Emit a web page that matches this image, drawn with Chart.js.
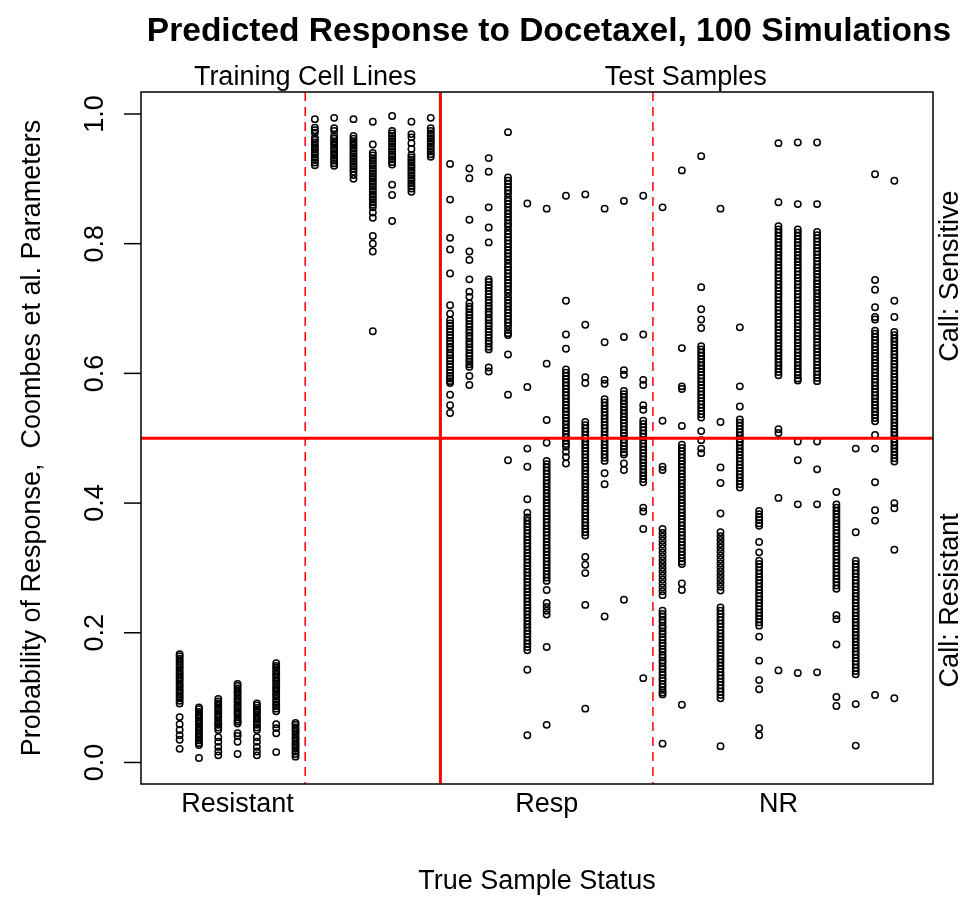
<!DOCTYPE html>
<html>
<head>
<meta charset="utf-8">
<script src="https://cdn.jsdelivr.net/npm/chart.js@4.4.1/dist/chart.umd.min.js"></script>
<style>
  html, body { margin: 0; padding: 0; background: #fff; }
</style>
</head>
<body>
<canvas id="stripChart" width="966" height="915"></canvas>
<script>
// labels and reference positions (x in column units, y in probability)
const groupNames = ['Resistant', 'Resp', 'NR'];
const groupLabelX = [4, 20, 32];
const topLabels = ['Training Cell Lines', 'Test Samples'];
const topLabelX = [7.5, 27.2];
const sideLabels = ['Call: Sensitive', 'Call: Resistant'];
const sideLabelY = [0.75, 0.25];
const yTicks = [0, 0.2, 0.4, 0.6, 0.8, 1.0];
const yTickLabels = ['0.0', '0.2', '0.4', '0.6', '0.8', '1.0'];
const dashedAt = [7.5, 25.5];
const solidAt = 14.5;
const cutoff = 0.5;

// predicted probabilities, one array per sample (100 simulations each, dense runs estimated)
const trainResistant = [
  [0.167,0.164,0.160,0.156,0.153,0.149,0.146,0.142,0.138,0.135,0.131,0.128,0.124,0.120,0.117,0.113,0.110,0.106,0.102,0.099,0.095,0.091,0.070,0.059,0.050,0.042,0.035,0.021],
  [0.085,0.082,0.078,0.074,0.071,0.067,0.063,0.060,0.056,0.052,0.049,0.045,0.041,0.038,0.034,0.030,0.027,0.007],
  [0.098,0.094,0.091,0.087,0.083,0.080,0.076,0.072,0.069,0.065,0.061,0.058,0.054,0.050,0.039,0.032,0.024,0.017,0.011],
  [0.121,0.118,0.114,0.110,0.107,0.103,0.099,0.096,0.092,0.088,0.085,0.081,0.077,0.074,0.070,0.066,0.063,0.060,0.045,0.041,0.032,0.013],
  [0.091,0.088,0.084,0.080,0.077,0.073,0.069,0.066,0.062,0.058,0.054,0.050,0.039,0.032,0.024,0.017,0.011],
  [0.153,0.149,0.146,0.142,0.138,0.135,0.131,0.127,0.124,0.120,0.116,0.113,0.109,0.105,0.102,0.098,0.094,0.090,0.087,0.083,0.079,0.059,0.053,0.045,0.016],
  [0.061,0.058,0.054,0.050,0.047,0.043,0.039,0.036,0.032,0.028,0.025,0.021,0.017,0.013,0.009]
];
const trainSensitive = [
  [0.992,0.979,0.975,0.971,0.963,0.960,0.956,0.952,0.948,0.945,0.941,0.937,0.933,0.929,0.925,0.921],
  [0.994,0.978,0.974,0.966,0.962,0.958,0.955,0.951,0.947,0.943,0.939,0.936,0.932,0.928,0.924,0.920],
  [0.992,0.966,0.962,0.958,0.954,0.951,0.947,0.943,0.939,0.935,0.931,0.927,0.923,0.919,0.915,0.911,0.906,0.900],
  [0.988,0.953,0.940,0.936,0.932,0.928,0.924,0.920,0.916,0.912,0.908,0.904,0.900,0.896,0.892,0.888,0.884,0.880,0.876,0.872,0.868,0.864,0.860,0.856,0.848,0.840,0.812,0.800,0.788,0.665],
  [0.997,0.974,0.970,0.966,0.962,0.958,0.954,0.950,0.946,0.942,0.938,0.934,0.930,0.926,0.922,0.891,0.875,0.835],
  [0.988,0.969,0.964,0.955,0.946,0.937,0.933,0.929,0.925,0.921,0.917,0.913,0.909,0.905,0.901,0.897,0.893,0.889,0.885,0.880],
  [0.994,0.978,0.974,0.970,0.966,0.962,0.958,0.954,0.950,0.946,0.942,0.938,0.934]
];
const testResp = [
  [0.923,0.868,0.809,0.791,0.754,0.705,0.692,0.682,0.677,0.673,0.668,0.664,0.659,0.655,0.650,0.646,0.641,0.637,0.632,0.628,0.623,0.619,0.614,0.610,0.605,0.601,0.596,0.592,0.588,0.585,0.567,0.551,0.539],
  [0.916,0.901,0.837,0.788,0.775,0.745,0.726,0.718,0.708,0.703,0.699,0.694,0.690,0.685,0.681,0.676,0.672,0.667,0.663,0.658,0.654,0.649,0.645,0.640,0.636,0.631,0.627,0.622,0.618,0.614,0.610,0.596,0.582],
  [0.932,0.911,0.856,0.825,0.802,0.745,0.741,0.736,0.732,0.727,0.722,0.718,0.713,0.709,0.704,0.700,0.695,0.691,0.686,0.682,0.677,0.673,0.668,0.664,0.659,0.655,0.650,0.646,0.641,0.637,0.609,0.603],
  [0.972,0.902,0.897,0.892,0.887,0.882,0.877,0.871,0.866,0.861,0.856,0.851,0.846,0.841,0.836,0.831,0.826,0.820,0.815,0.810,0.805,0.800,0.795,0.790,0.785,0.780,0.775,0.769,0.764,0.759,0.754,0.749,0.744,0.739,0.734,0.729,0.724,0.718,0.713,0.708,0.703,0.698,0.693,0.688,0.683,0.678,0.673,0.667,0.662,0.659,0.629,0.567,0.466],
  [0.862,0.579,0.484,0.456,0.406,0.385,0.378,0.373,0.368,0.363,0.358,0.353,0.348,0.343,0.338,0.333,0.328,0.323,0.318,0.313,0.308,0.303,0.298,0.293,0.288,0.283,0.278,0.273,0.268,0.263,0.258,0.253,0.248,0.243,0.238,0.233,0.228,0.223,0.218,0.213,0.208,0.203,0.198,0.193,0.188,0.183,0.178,0.173,0.143,0.042],
  [0.854,0.615,0.528,0.493,0.465,0.460,0.455,0.450,0.445,0.440,0.435,0.430,0.425,0.420,0.415,0.410,0.405,0.400,0.395,0.390,0.385,0.380,0.375,0.370,0.365,0.360,0.355,0.350,0.345,0.340,0.335,0.330,0.325,0.320,0.315,0.310,0.305,0.300,0.295,0.290,0.285,0.280,0.266,0.246,0.240,0.234,0.228,0.178,0.058],
  [0.874,0.712,0.660,0.638,0.606,0.601,0.596,0.591,0.586,0.581,0.576,0.571,0.566,0.561,0.556,0.551,0.546,0.541,0.536,0.531,0.526,0.521,0.516,0.511,0.506,0.501,0.496,0.491,0.487,0.479,0.471,0.461],
  [0.876,0.675,0.594,0.585,0.525,0.520,0.515,0.510,0.505,0.500,0.495,0.490,0.485,0.480,0.475,0.470,0.465,0.460,0.455,0.450,0.445,0.440,0.435,0.430,0.425,0.420,0.415,0.410,0.405,0.400,0.395,0.390,0.385,0.380,0.375,0.370,0.365,0.360,0.355,0.350,0.317,0.305,0.292,0.243,0.083],
  [0.854,0.648,0.590,0.584,0.560,0.555,0.550,0.545,0.540,0.535,0.530,0.525,0.520,0.515,0.510,0.505,0.500,0.495,0.490,0.485,0.480,0.475,0.470,0.465,0.446,0.429,0.225],
  [0.866,0.656,0.605,0.598,0.573,0.568,0.563,0.558,0.553,0.548,0.543,0.538,0.533,0.528,0.523,0.518,0.513,0.508,0.503,0.498,0.493,0.488,0.483,0.478,0.475,0.461,0.451,0.251],
  [0.874,0.660,0.590,0.582,0.551,0.544,0.527,0.522,0.517,0.512,0.507,0.502,0.497,0.492,0.487,0.482,0.477,0.472,0.467,0.462,0.457,0.452,0.447,0.442,0.437,0.432,0.393,0.387,0.360,0.130]
];
const testNR = [
  [0.856,0.527,0.456,0.451,0.360,0.354,0.348,0.342,0.336,0.330,0.324,0.318,0.312,0.306,0.300,0.294,0.288,0.282,0.276,0.270,0.264,0.258,0.234,0.229,0.225,0.220,0.216,0.211,0.207,0.202,0.198,0.193,0.189,0.184,0.180,0.175,0.171,0.166,0.162,0.157,0.153,0.148,0.144,0.139,0.135,0.130,0.126,0.121,0.117,0.112,0.108,0.105,0.029],
  [0.913,0.639,0.580,0.576,0.519,0.490,0.485,0.480,0.475,0.470,0.465,0.460,0.455,0.450,0.445,0.440,0.435,0.430,0.425,0.420,0.415,0.410,0.405,0.400,0.395,0.390,0.385,0.380,0.375,0.370,0.365,0.360,0.355,0.350,0.345,0.340,0.335,0.330,0.325,0.320,0.315,0.310,0.306,0.276,0.266,0.089],
  [0.935,0.733,0.699,0.683,0.670,0.642,0.637,0.632,0.627,0.622,0.617,0.612,0.607,0.602,0.597,0.592,0.587,0.582,0.577,0.572,0.567,0.562,0.557,0.552,0.547,0.542,0.537,0.532,0.511,0.497,0.484,0.477],
  [0.854,0.525,0.455,0.431,0.384,0.355,0.349,0.343,0.337,0.331,0.325,0.319,0.313,0.307,0.301,0.295,0.289,0.283,0.277,0.271,0.265,0.239,0.234,0.229,0.224,0.219,0.214,0.209,0.204,0.199,0.194,0.189,0.184,0.179,0.174,0.169,0.164,0.159,0.154,0.149,0.144,0.139,0.134,0.129,0.124,0.119,0.114,0.109,0.104,0.099,0.025],
  [0.671,0.580,0.549,0.529,0.524,0.519,0.514,0.509,0.504,0.499,0.494,0.489,0.484,0.479,0.474,0.469,0.464,0.459,0.454,0.449,0.444,0.439,0.434,0.429,0.424],
  [0.388,0.383,0.378,0.374,0.369,0.365,0.340,0.324,0.311,0.306,0.301,0.296,0.291,0.286,0.281,0.276,0.271,0.266,0.261,0.256,0.251,0.246,0.241,0.236,0.231,0.226,0.221,0.216,0.211,0.194,0.157,0.127,0.113,0.053,0.042],
  [0.955,0.864,0.827,0.822,0.817,0.812,0.807,0.802,0.797,0.792,0.787,0.782,0.777,0.772,0.767,0.762,0.757,0.752,0.747,0.742,0.737,0.732,0.727,0.722,0.717,0.712,0.707,0.702,0.697,0.692,0.687,0.682,0.677,0.672,0.667,0.662,0.657,0.652,0.647,0.642,0.637,0.632,0.627,0.622,0.617,0.612,0.607,0.602,0.597,0.514,0.508,0.408,0.142],
  [0.956,0.861,0.822,0.817,0.812,0.807,0.802,0.797,0.792,0.787,0.782,0.777,0.772,0.767,0.762,0.757,0.752,0.747,0.742,0.737,0.732,0.727,0.722,0.717,0.712,0.707,0.702,0.697,0.692,0.687,0.682,0.677,0.672,0.667,0.662,0.657,0.652,0.647,0.642,0.637,0.632,0.627,0.622,0.617,0.612,0.607,0.602,0.597,0.592,0.589,0.495,0.466,0.398,0.138],
  [0.956,0.861,0.818,0.813,0.808,0.803,0.798,0.793,0.788,0.783,0.778,0.773,0.768,0.763,0.758,0.753,0.748,0.743,0.738,0.733,0.728,0.723,0.718,0.713,0.708,0.703,0.698,0.693,0.688,0.683,0.678,0.673,0.668,0.663,0.658,0.653,0.648,0.643,0.638,0.633,0.628,0.623,0.618,0.613,0.608,0.603,0.598,0.593,0.588,0.495,0.452,0.398,0.139],
  [0.417,0.398,0.393,0.388,0.383,0.378,0.373,0.368,0.363,0.358,0.353,0.348,0.343,0.338,0.333,0.328,0.323,0.318,0.313,0.308,0.303,0.298,0.293,0.288,0.283,0.278,0.273,0.268,0.227,0.221,0.182,0.101,0.087],
  [0.484,0.355,0.311,0.306,0.301,0.296,0.291,0.286,0.281,0.276,0.271,0.266,0.261,0.256,0.251,0.246,0.241,0.236,0.231,0.226,0.221,0.216,0.211,0.206,0.201,0.196,0.191,0.186,0.181,0.176,0.171,0.166,0.161,0.156,0.151,0.146,0.141,0.136,0.090,0.026],
  [0.907,0.744,0.729,0.702,0.687,0.683,0.666,0.661,0.656,0.651,0.646,0.641,0.636,0.631,0.626,0.621,0.616,0.611,0.606,0.601,0.596,0.591,0.586,0.581,0.576,0.571,0.566,0.561,0.556,0.551,0.546,0.541,0.536,0.531,0.526,0.505,0.484,0.432,0.389,0.373,0.104],
  [0.897,0.712,0.687,0.664,0.659,0.654,0.649,0.644,0.639,0.634,0.629,0.624,0.619,0.614,0.609,0.604,0.599,0.594,0.589,0.584,0.579,0.574,0.569,0.564,0.559,0.554,0.549,0.544,0.539,0.534,0.529,0.524,0.519,0.514,0.509,0.504,0.499,0.494,0.489,0.484,0.479,0.474,0.469,0.464,0.400,0.392,0.328,0.099]
];

const columns = [].concat(trainResistant, trainSensitive, testResp, testNR);
const points = [];
columns.forEach((col, i) => {
  col.forEach(v => points.push({ x: i + 1, y: v }));
});

const FONT = '"Liberation Sans", Arial, Helvetica, sans-serif';

function vText(ctx, str, x, y) {
  ctx.save();
  ctx.translate(x, y);
  ctx.rotate(-Math.PI / 2);
  ctx.textAlign = 'center';
  ctx.textBaseline = 'alphabetic';
  ctx.fillText(str, 0, 0);
  ctx.restore();
}

function seg(ctx, x1, y1, x2, y2) {
  ctx.beginPath();
  ctx.moveTo(x1, y1);
  ctx.lineTo(x2, y2);
  ctx.stroke();
}

// R-style frame, ticks, reference lines and margin text
const decor = {
  id: 'decor',
  afterDatasetsDraw(chart) {
    const { ctx, chartArea: a, scales: { x, y } } = chart;
    ctx.save();

    ctx.strokeStyle = '#ff0000';
    ctx.lineWidth = 1.5;
    ctx.setLineDash([9, 6]);
    dashedAt.forEach(v => {
      const px = x.getPixelForValue(v);
      seg(ctx, px, a.top, px, a.bottom);
    });
    ctx.setLineDash([]);
    ctx.lineWidth = 3;
    const sx = x.getPixelForValue(solidAt);
    seg(ctx, sx, a.top, sx, a.bottom);
    const hy = y.getPixelForValue(cutoff);
    seg(ctx, a.left, hy, a.right, hy);

    ctx.strokeStyle = '#000';
    ctx.lineWidth = 1.5;
    ctx.strokeRect(a.left, a.top, a.right - a.left, a.bottom - a.top);

    ctx.fillStyle = '#000';
    ctx.font = '27px ' + FONT;
    yTicks.forEach((t, i) => {
      const py = y.getPixelForValue(t);
      seg(ctx, a.left - 17, py, a.left, py);
      vText(ctx, yTickLabels[i], 103, py);
    });

    ctx.textAlign = 'center';
    ctx.textBaseline = 'alphabetic';
    groupNames.forEach((g, i) => ctx.fillText(g, x.getPixelForValue(groupLabelX[i]), 812));
    topLabels.forEach((g, i) => ctx.fillText(g, x.getPixelForValue(topLabelX[i]), 85));
    ctx.fillText('True Sample Status', (a.left + a.right) / 2, 889);

    sideLabels.forEach((s, i) => vText(ctx, s, 958, y.getPixelForValue(sideLabelY[i])));
    vText(ctx, 'Probability of Response,  Coombes et al. Parameters', 40, (a.top + a.bottom) / 2);

    ctx.font = 'bold 33.5px ' + FONT;
    ctx.textAlign = 'center';
    ctx.fillText('Predicted Response to Docetaxel, 100 Simulations', 549, 41);

    ctx.restore();
  }
};

new Chart(document.getElementById('stripChart').getContext('2d'), {
  type: 'scatter',
  data: {
    datasets: [{
      label: 'Probability of response',
      data: points,
      pointStyle: 'circle',
      pointRadius: 3.2,
      pointBorderWidth: 1.5,
      borderColor: '#000',
      backgroundColor: 'rgba(0,0,0,0)'
    }]
  },
  options: {
    responsive: false,
    animation: false,
    devicePixelRatio: 1,
    events: [],
    layout: { padding: { left: 141, right: 33, top: 92, bottom: 131 } },
    plugins: { legend: { display: false }, tooltip: { enabled: false } },
    scales: {
      x: { type: 'linear', min: -1, max: 40, display: false },
      y: { type: 'linear', min: -0.0332, max: 1.0339, display: false }
    }
  },
  plugins: [decor]
});
</script>
</body>
</html>
